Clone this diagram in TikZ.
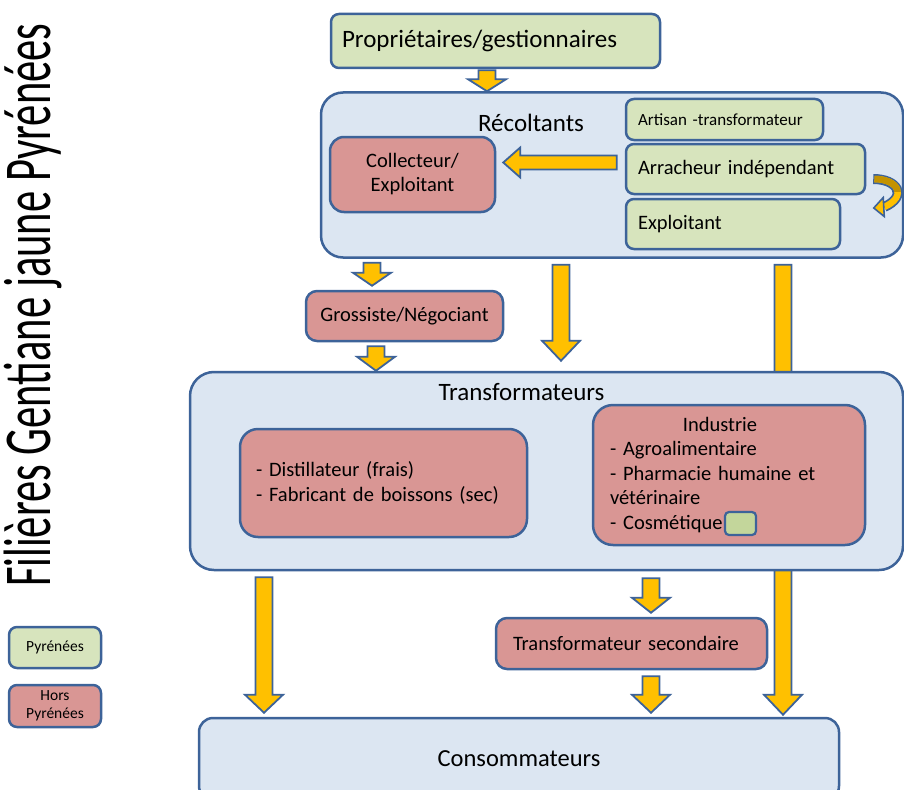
\documentclass[tikz,border=0pt]{standalone}
\usepackage{fontspec}
\setmainfont{Carlito}
\usetikzlibrary{calc}
\definecolor{gfill}{HTML}{D7E4BD}
\definecolor{rfill}{HTML}{D99694}
\definecolor{cfill}{HTML}{DCE6F2}
\definecolor{bord}{HTML}{3D6399}
\definecolor{yfill}{HTML}{FFC000}
\definecolor{dgold}{HTML}{C39200}
\definecolor{cosmfill}{HTML}{C3D69B}
\newcommand\fsz[2]{\fontsize{#1}{#2}\selectfont}
% vertical block arrow: start, end, head length
\newcommand\varrow[3]{\draw[barrow] let \p1=#1, \p2=#2 in
  (\x1-8.5pt,\y1) -- (\x1+8.5pt,\y1) -- (\x1+8.5pt,\y2+#3) -- (\x1+19pt,\y2+#3) --
  (\x1,\y2) -- (\x1-19pt,\y2+#3) -- (\x1-8.5pt,\y2+#3) -- cycle;}
% horizontal block arrow pointing left: start, end, head length
\newcommand\harrow[3]{\draw[barrow] let \p1=#1, \p2=#2 in
  (\x1,\y1-7pt) -- (\x1,\y1+7pt) -- (\x2+#3,\y1+7pt) -- (\x2+#3,\y1+15pt) --
  (\x2,\y1) -- (\x2+#3,\y1-15pt) -- (\x2+#3,\y1-7pt) -- cycle;}
\begin{document}
\begin{tikzpicture}[x=1pt,y=-1pt,
  box/.style={draw=bord, line width=2.5pt, rounded corners=8pt, inner sep=0pt, text=black},
  gbox/.style={box, fill=gfill},
  rbox/.style={box, fill=rfill},
  cont/.style={box, fill=cfill, rounded corners=22pt},
  barrow/.style={fill=yfill, draw=bord, line width=1.8pt, line join=miter},
]
\useasboundingbox (0,0) rectangle (904,789);

% title
\node[rotate=90, anchor=base west, inner sep=0pt] (title) at (50,587)
  {\scalebox{0.635}[1]{\fsz{67}{70}Filières Gentiane jaune Pyrénées}};

% legend
\node[gbox, minimum width=92pt, minimum height=41pt, font=\fsz{15.5}{18}] (lpyr) at (55,647.5) {Pyrénées};
\node[rbox, minimum width=92pt, minimum height=42pt, align=center, font=\fsz{15.5}{18}] (lhors) at (55,706) {Hors\\Pyrénées};

% top
\node[gbox, minimum width=329pt, minimum height=54pt, inner xsep=11pt, text width=307pt,
  align=left, font=\fsz{25}{30}] (prop) at (495.5,41) {Propriétaires/gestionnaires};

% Recoltants container
\node[cont, minimum width=582pt, minimum height=165pt] (rec) at (612,175) {};
\node[font=\fsz{25}{30}] (reclab) at (531,123) {Récoltants};
\node[rbox, rounded corners=14pt, minimum width=165pt, minimum height=75pt, align=center,
  font=\fsz{20.5}{24}] (coll) at (412.5,174.5) {Collecteur/\\Exploitant};
\node[gbox, minimum width=197pt, minimum height=41pt, inner xsep=12pt, text width=173pt,
  align=left, font=\fsz{17}{20}] (art) at (724.5,119.5) {Artisan -transformateur};
\node[gbox, minimum width=239pt, minimum height=50pt, inner xsep=12pt, text width=215pt,
  align=left, font=\fsz{20.5}{24}] (arr) at (745.5,169) {Arracheur indépendant};
\node[gbox, minimum width=214pt, minimum height=50pt, inner xsep=12pt, text width=190pt,
  align=left, font=\fsz{20.5}{24}] (expl) at (733,224) {Exploitant};

% arrows inside / from top
\varrow{($(prop.south)+(-8.5,1)$)}{(rec.north)}{12pt}
\harrow{($(arr.west)+(-8,-6.5)$)}{($(coll.east)+(7,0)$)}{17pt}

% curved arrow (Arracheur -> Exploitant)
\coordinate (cs) at ($(arr.east)+(7,10)$);
\coordinate (cb) at ($(expl.east)+(43,-17)$);
\coordinate (ct) at ($(expl.east)+(32.5,-16)$);
\draw[bord, line width=10pt] (cs) .. controls ($(cs)+(24,0)$) and ($(cb)+(24,-11)$) .. (cb);
\draw[yfill, line width=6.5pt, shorten <=1.3pt] (cs) .. controls ($(cs)+(24,0)$) and ($(cb)+(24,-11)$) .. (cb);
\begin{scope}
\clip (870,170) rectangle (904,191);
\draw[dgold, line width=6.5pt, shorten <=1.3pt] (cs) .. controls ($(cs)+(24,0)$) and ($(cb)+(24,-11)$) .. (cb);
\end{scope}
\draw[barrow, line width=1.6pt] (ct) -- ($(cb)+(-1,-9.5)$) -- ($(cb)+(0,9.5)$) -- cycle;

% Grossiste
\node[rbox, rounded corners=11pt, minimum width=197pt, minimum height=50pt,
  font=\fsz{20.5}{24}] (gros) at (404.5,316) {Grossiste/Négociant};
\varrow{($(rec.south)+(-240,4)$)}{($(gros.north)+(0,-4)$)}{13pt}

% long arrow right (behind Transformateurs)
\node[cont, rounded corners=14pt, minimum width=640pt, minimum height=82pt,
  font=\fsz{24.5}{29}] (cons) at (519,759) {Consommateurs};
\varrow{($(rec.south)+(171,6)$)}{($(cons.north)+(0,-2)$)}{20pt}

% Transformateurs container
\node[cont, rounded corners=24pt, minimum width=713pt, minimum height=198pt] (trans) at (546.5,471) {};
\node[font=\fsz{25}{30}] (translab) at (521.5,392) {Transformateurs};
\varrow{($(rec.south)+(-51,6)$)}{($(trans.north)+(0,-10)$)}{20pt}
\varrow{($(gros.south)+(-28.5,4)$)}{(trans.north)}{14pt}

\node[rbox, rounded corners=18pt, minimum width=287pt, minimum height=108pt, inner xsep=16pt,
  text width=255pt, align=left, font=\fsz{20.5}{24.5}] (dist) at (383.5,483)
  {- Distillateur (frais)\\- Fabricant de boissons (sec)};
\node[rbox, rounded corners=20pt, minimum width=272pt, minimum height=140pt, inner xsep=17pt,
  text width=238pt, align=left, font=\fsz{20.5}{24.5}] (ind) at (729,475)
  {\makebox[220pt]{Industrie}\\- Agroalimentaire\\- Pharmacie humaine et\\vétérinaire\\- Cosmétique};
\node[box, fill=cosmfill, rounded corners=4pt, line width=2.2pt, minimum width=31pt,
  minimum height=23pt] (cosm) at (740.5,523.5) {};

% lower part
\node[rbox, rounded corners=11pt, minimum width=271pt, minimum height=51pt, inner xsep=17pt,
  text width=237pt, align=left, font=\fsz{20.5}{24}] (tsec) at (631.5,643.5) {Transformateur secondaire};
\varrow{($(trans.south)+(-282.5,6)$)}{($(cons.north)+(0,-4)$)}{18pt}
\varrow{($(trans.south)+(104.5,7)$)}{($(tsec.north)+(0,-4)$)}{15pt}
\varrow{($(tsec.south)+(19.5,6)$)}{($(cons.north)+(0,-4)$)}{18pt}
\end{tikzpicture}
\end{document}
